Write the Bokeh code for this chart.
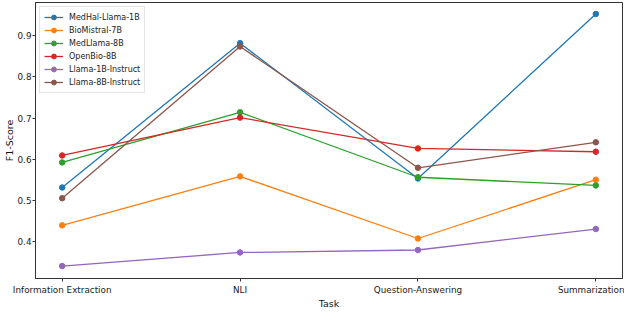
from bokeh.plotting import figure
from bokeh.models import Range1d, FixedTicker, Legend, LegendItem, LinearAxis
from bokeh.embed import file_html
from bokeh.resources import INLINE

tasks = ["Information Extraction", "NLI", "Question-Answering", "Summarization"]
models = ["MedHal-Llama-1B", "BioMistral-7B", "MedLlama-8B", "OpenBio-8B",
          "Llama-1B-Instruct", "Llama-8B-Instruct"]
medhal_llama_1b = [0.531, 0.882, 0.553, 0.953]
biomistral_7b = [0.439, 0.558, 0.407, 0.550]
medllama_8b = [0.592, 0.714, 0.556, 0.536]
openbio_8b = [0.609, 0.701, 0.626, 0.618]
llama_1b_instruct = [0.340, 0.373, 0.379, 0.430]
llama_8b_instruct = [0.505, 0.874, 0.579, 0.641]
series = [medhal_llama_1b, biomistral_7b, medllama_8b, openbio_8b,
          llama_1b_instruct, llama_8b_instruct]
colors = ["#1f77b4", "#ff7f0e", "#2ca02c", "#d62728", "#9467bd", "#8c564b"]
y_ticks = [0.4, 0.5, 0.6, 0.7, 0.8, 0.9]
x_title = "Task"
y_title = "F1-Score"

x = list(range(len(tasks)))

p = figure(width=624, height=311, output_backend="svg", toolbar_location=None,
           x_range=Range1d(-0.15, 3.15), y_range=Range1d(0.3097, 0.981))
p.min_border_left = 0
p.min_border_right = 2
p.min_border_top = 2
p.min_border_bottom = 0
p.xgrid.visible = False
p.ygrid.visible = False
p.outline_line_color = "#333333"
p.outline_line_width = 1
p.background_fill_color = "white"

items = []
for name, vals, c in zip(models, series, colors):
    l = p.line(x, vals, line_color=c, line_width=1.3)
    s = p.scatter(x, vals, size=5.5, fill_color=c, line_color=c)
    items.append(LegendItem(label=name, renderers=[l, s]))

legend = Legend(items=items, location="top_left")
legend.label_text_font = "DejaVu Sans"
legend.label_text_font_size = "8px"
legend.label_text_color = "#222222"
legend.glyph_height = 12
legend.glyph_width = 19
legend.label_height = 12
legend.label_standoff = 6
legend.spacing = 1
legend.padding = 4
legend.margin = 4
legend.border_line_color = "#cccccc"
legend.border_line_width = 1
legend.background_fill_alpha = 0.8
p.add_layout(legend)

p.xaxis.ticker = FixedTicker(ticks=x)
p.xaxis.major_label_overrides = {i: t for i, t in enumerate(tasks)}
p.yaxis.ticker = FixedTicker(ticks=y_ticks)
p.yaxis.axis_label = y_title
for ax in (p.xaxis, p.yaxis):
    ax.axis_line_color = "#333333"
    ax.major_tick_line_color = "#333333"
    ax.major_tick_out = 3
    ax.major_tick_in = 0
    ax.minor_tick_line_color = None
    ax.major_label_text_font = "DejaVu Sans"
    ax.major_label_text_font_size = "8.8px"
    ax.major_label_text_color = "#222222"
    ax.major_label_text_line_height = 1.0
    ax.major_label_standoff = 1
    ax.axis_label_text_font = "DejaVu Sans"
    ax.axis_label_text_font_size = "9.5px"
    ax.axis_label_text_font_style = "normal"
    ax.axis_label_text_color = "#111111"
    ax.axis_label_standoff = 0
p.xaxis.major_label_standoff = 3

mid = (len(tasks) - 1) / 2
title_axis = LinearAxis(ticker=FixedTicker(ticks=[mid]),
                        major_label_overrides={mid: x_title},
                        axis_line_color=None, major_tick_line_color=None,
                        minor_tick_line_color=None, major_tick_out=0,
                        major_tick_in=0, major_label_standoff=0,
                        axis_label_standoff=0,
                        major_label_text_line_height=1.0,
                        major_label_text_font="DejaVu Sans",
                        major_label_text_font_size="9.5px",
                        major_label_text_color="#111111")
p.add_layout(title_axis, "below")

open("out.html", "w").write(file_html(p, INLINE))
